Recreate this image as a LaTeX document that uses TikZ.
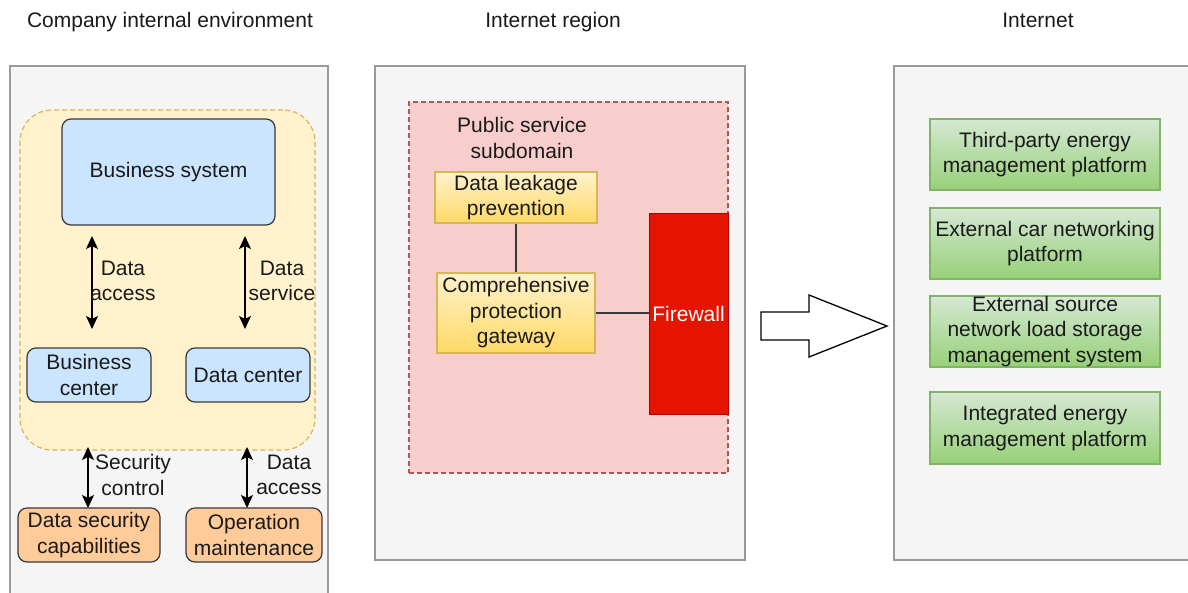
\documentclass[tikz,border=0pt]{standalone}
\usepackage{fontspec}
\setmainfont{Liberation Sans}
\usetikzlibrary{arrows.meta}
\definecolor{panelfill}{HTML}{F5F5F5}
\definecolor{panelstroke}{HTML}{9A9A9A}
\definecolor{darkstroke}{HTML}{36393D}
\definecolor{bluefill}{HTML}{CCE5FF}
\definecolor{orangefill}{HTML}{FFCC99}
\definecolor{yellowfill}{HTML}{FFF2CC}
\definecolor{yellowdark}{HTML}{FFD966}
\definecolor{yellowstroke}{HTML}{D6B656}
\definecolor{pinkfill}{HTML}{F8CECC}
\definecolor{pinkstroke}{HTML}{B85450}
\definecolor{firered}{HTML}{E51400}
\definecolor{firestroke}{HTML}{B20000}
\definecolor{greenlight}{HTML}{D5E8D4}
\definecolor{greendark}{HTML}{97D077}
\definecolor{greenstroke}{HTML}{82B366}
\definecolor{txt}{HTML}{1A1A1A}
\begin{document}
\begin{tikzpicture}[x=1pt,y=-1pt,
  font=\fontsize{21}{25.5}\selectfont, text=txt,
  box/.style={inner sep=0pt, align=center},
  panel/.style={box, draw=panelstroke, fill=panelfill, line width=1.5pt},
  bluebox/.style={box, draw=darkstroke, fill=bluefill, rounded corners=9pt, line width=1.2pt},
  orangebox/.style={box, draw=darkstroke, fill=orangefill, rounded corners=9pt, line width=1.2pt},
  yellowbox/.style={box, draw=yellowstroke, top color=yellowfill, bottom color=yellowdark, line width=1.2pt},
  greenbox/.style={box, draw=greenstroke, top color=greenlight, bottom color=greendark, line width=1.2pt},
  biarrow/.style={{Stealth[length=13pt,width=12pt,inset=3pt]}-{Stealth[length=13pt,width=12pt,inset=3pt]}, line width=1.6pt, black},
  link/.style={draw=darkstroke, line width=1.5pt},
  lbl/.style={inner sep=0pt, align=center}
]
\clip (0,0) rectangle (1188,592);
\fill[white] (0,0) rectangle (1188,592);

% titles
\node[lbl, anchor=base] (t1) at (170,27) {Company internal environment};
\node[lbl, anchor=base] (t2) at (553,27) {Internet region};
\node[lbl, anchor=base] (t3) at (1038,27) {Internet};

% panels
\node[panel, minimum width=318pt, minimum height=544pt] (p1) at (169,338) {};
\node[panel, minimum width=370pt, minimum height=494pt] (p2) at (560,313) {};
\node[panel, minimum width=306pt, minimum height=494pt] (p3) at (1047,313) {};

% left panel
\node[box, draw=yellowstroke, fill=yellowfill, dashed, dash pattern=on 5pt off 3pt, rounded corners=32pt, line width=1.2pt, minimum width=295pt, minimum height=340pt] (core) at (167.5,280) {};
\node[bluebox, minimum width=213pt, minimum height=106pt] (bs) at (168.5,172) {Business system};
\node[bluebox, minimum width=124pt, minimum height=54pt] (bc) at (89,375) {Business\\center};
\node[bluebox, minimum width=124pt, minimum height=54pt] (dc) at (248,375) {Data center};
\node[orangebox, minimum width=142pt, minimum height=54pt] (dsc) at (89,535) {Data security\\capabilities};
\node[orangebox, minimum width=136pt, minimum height=54pt] (om) at (254,535) {Operation\\maintenance};

\coordinate (a1t) at (92,236);
\coordinate (a1b) at (92,329);
\coordinate (a2t) at (245,236);
\coordinate (a2b) at (245,329);
\coordinate (a3t) at (88,447);
\coordinate (a3b) at (88,508);
\coordinate (a4t) at (247,447);
\coordinate (a4b) at (247,508);
\draw[biarrow] (a1t) -- (a1b);
\draw[biarrow] (a2t) -- (a2b);
\draw[biarrow] (a3t) -- (a3b);
\draw[biarrow] (a4t) -- (a4b);
\node[lbl] (l1) at (123,281) {Data\\access};
\node[lbl] (l2) at (282,281) {Data\\service};
\node[lbl] (l3) at (133,475) {Security\\control};
\node[lbl] (l4) at (289,475) {Data\\access};

% middle panel
\node[box, draw=pinkstroke, fill=pinkfill, dashed, dash pattern=on 5pt off 3pt, line width=1.2pt, minimum width=319pt, minimum height=371pt] (psd) at (568.5,287.5) {};
\node[lbl] (psdl) at (522,138) {Public service\\subdomain};
\node[yellowbox, minimum width=162pt, minimum height=51pt] (dlp) at (516,197.5) {Data leakage\\prevention};
\node[yellowbox, minimum width=158pt, minimum height=80pt] (gw) at (516,313) {Comprehensive\\protection\\gateway};
\node[box, draw=firestroke, fill=firered, line width=1pt, minimum width=79pt, minimum height=201pt, text=white] (fw) at (688.5,313.5) {Firewall};
\draw[link] (dlp.south) -- (gw.north);
\draw[link] (gw.east) -- (gw.east -| fw.west);

% big arrow
\draw[line width=1.3pt, fill=white, line join=miter] (761,312) -- (809,312) -- (809,295) -- (887,326) -- (809,357) -- (809,340) -- (761,340) -- cycle;

% right panel
\node[greenbox, minimum width=230pt, minimum height=71pt] (g1) at (1045,154.5) {Third-party energy\\management platform};
\node[greenbox, minimum width=230pt, minimum height=71pt] (g2) at (1045,243.5) {External car networking\\platform};
\node[greenbox, minimum width=230pt, minimum height=71pt] (g3) at (1045,331.5) {External source\\network load storage\\management system};
\node[greenbox, minimum width=230pt, minimum height=72pt] (g4) at (1045,428) {Integrated energy\\management platform};
\end{tikzpicture}
\end{document}
